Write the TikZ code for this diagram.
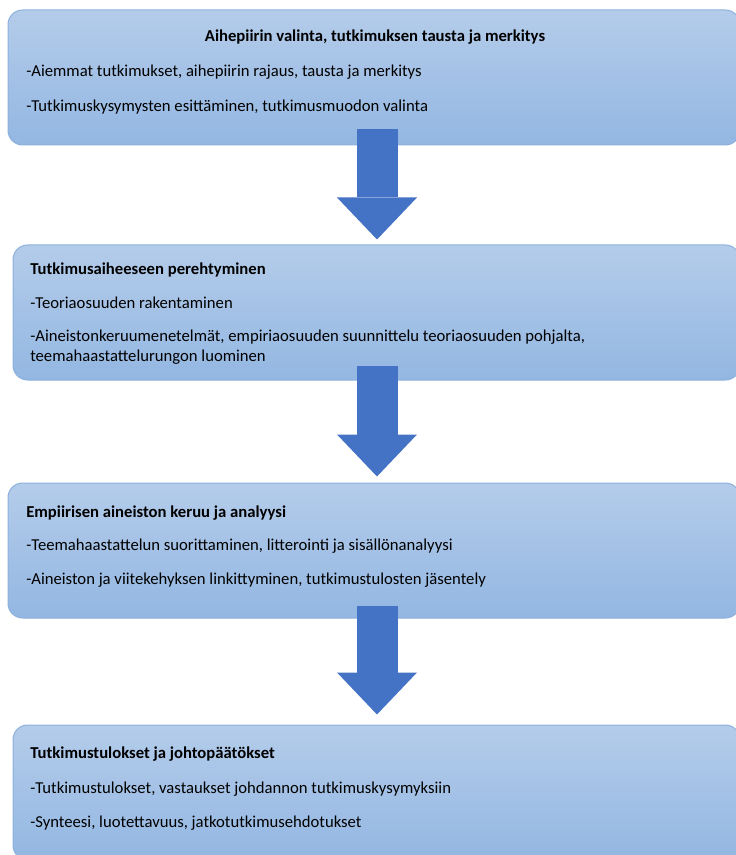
\documentclass[tikz,border=0pt]{standalone}
\usepackage{fontspec}
\setmainfont{Carlito}
\usepackage{xcolor}
\usetikzlibrary{arrows.meta, calc}

\definecolor{boxtop}{HTML}{B4CCEA}
\definecolor{boxbot}{HTML}{93B7E2}
\definecolor{boxline}{HTML}{8DB1DD}
\definecolor{arrowblue}{HTML}{4472C4}

\begin{document}
\begin{tikzpicture}[
    x=0.75pt, y=-0.75pt,
    stage/.style={rectangle, draw=boxline, line width=0.75pt, rounded corners=11pt, top color=boxtop, bottom color=boxbot, minimum height=101.25pt, inner sep=0pt},
    title/.style={anchor=base west, inner sep=0pt, font=\fontsize{12.5}{15}\selectfont\bfseries},
    item/.style={anchor=base west, inner sep=0pt, align=left, font=\fontsize{12.5}{15}\selectfont},
    bigarrow/.style={arrowblue, line width=30.75pt, -{Triangle[length=31.5pt, width=60pt, line width=0pt]}}
]
    \useasboundingbox (0,0) rectangle (735,855);

    % the four stages
    \node[stage, minimum width=549pt] (s1) at (374,77.5) {};
    \node[stage, minimum width=545.25pt] (s2) at (376.5,312.5) {};
    \node[stage, minimum width=549pt] (s3) at (374,550.5) {};
    \node[stage, minimum width=545.25pt] (s4) at (376.5,792.5) {};

    \node[title, anchor=base] (t1) at (375,42) {Aihepiirin valinta, tutkimuksen tausta ja merkitys};
    \node[item] (i11) at (26,77) {-Aiemmat tutkimukset, aihepiirin rajaus, tausta ja merkitys};
    \node[item] (i12) at (26,112) {-Tutkimuskysymysten esittäminen, tutkimusmuodon valinta};

    \node[title] (t2) at (30,274) {Tutkimusaiheeseen perehtyminen};
    \node[item] (i21) at (30,308) {-Teoriaosuuden rakentaminen};
    \node[item, anchor=north west] (i22) at (30,330) {-Aineistonkeruumenetelmät, empiriaosuuden suunnittelu teoriaosuuden pohjalta,\\teemahaastattelurungon luominen};

    \node[title] (t3) at (26,517) {Empiirisen aineiston keruu ja analyysi};
    \node[item] (i31) at (26,550) {-Teemahaastattelun suorittaminen, litterointi ja sisällönanalyysi};
    \node[item] (i32) at (26,584) {-Aineiston ja viitekehyksen linkittyminen, tutkimustulosten jäsentely};

    \node[title] (t4) at (30,758) {Tutkimustulokset ja johtopäätökset};
    \node[item] (i41) at (30,793) {-Tutkimustulokset, vastaukset johdannon tutkimuskysymyksiin};
    \node[item] (i42) at (30,827) {-Synteesi, luotettavuus, jatkotutkimusehdotukset};

    % block arrows between stages
    \coordinate (ax) at (377,0);
    \draw[bigarrow] ($(s1.south -| ax)+(0,-16)$) -- ($(s2.north -| ax)+(0,-5)$);
    \draw[bigarrow] ($(s2.south -| ax)+(0,-15)$) -- ($(s3.north -| ax)+(0,-6)$);
    \draw[bigarrow] ($(s3.south -| ax)+(0,-13)$) -- ($(s4.north -| ax)+(0,-10)$);
\end{tikzpicture}
\end{document}
